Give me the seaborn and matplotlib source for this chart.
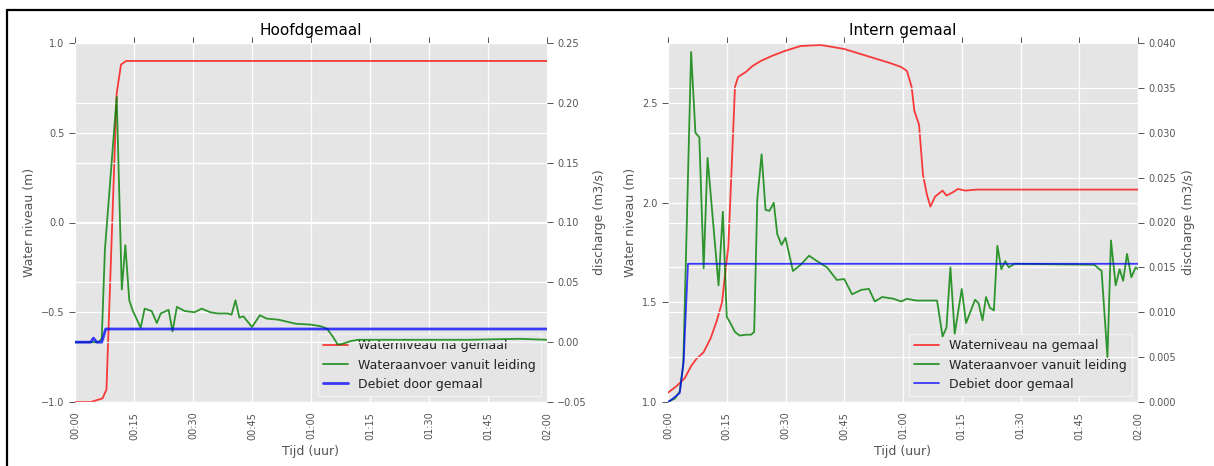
import numpy as np
import pandas as pd
import matplotlib
matplotlib.use("Agg")
import matplotlib.pyplot as plt
import matplotlib.dates as mdates
from matplotlib.ticker import MultipleLocator
from matplotlib.lines import Line2D
import seaborn as sns

# ---------------- data (time in minutes from 00:00) ----------------
titles = ["Hoofdgemaal", "Intern gemaal"]
series_labels = ["Waterniveau na gemaal", "Wateraanvoer vanuit leiding", "Debiet door gemaal"]

# Hoofdgemaal
h_level_t = [0, 4, 7, 8, 10.6, 11.7, 13, 120]
h_level_v = [-1.0, -1.0, -0.98, -0.93, 0.72, 0.88, 0.90, 0.90]

h_supply_t = [0, 6.0, 6.8, 7.6, 10.6, 11.9, 12.8, 13.8, 14.6, 16.7, 17.7, 19.5, 20.8,
              21.8, 23.8, 24.8, 25.9, 27.9, 30.4, 32.2, 34.4, 36.3, 38.8, 39.8, 40.8,
              41.8, 42.8, 45.0, 47.0, 48.7, 51.7, 54.2, 56.1, 60.1, 62.6, 64.1, 65.5,
              66.8, 68.0, 70.0, 72.0, 80, 100, 113, 120]
h_supply_q = [0, 0, 0.003, 0.077, 0.205, 0.044, 0.081, 0.035, 0.027, 0.012, 0.028, 0.026,
              0.016, 0.024, 0.027, 0.009, 0.0295, 0.026, 0.025, 0.028, 0.025, 0.024, 0.024,
              0.023, 0.035, 0.0205, 0.0216, 0.0126, 0.0225, 0.0197, 0.0188, 0.0169, 0.0154,
              0.0146, 0.0132, 0.0112, 0.0048, -0.002, -0.0014, 0.0008, 0.002, 0.002, 0.002,
              0.0028, 0.002]

h_pump_t = [0, 4.0, 4.7, 5.5, 6.8, 7.8, 120]
h_pump_q = [0, 0, 0.0034, 0.0, 0.0, 0.011, 0.011]

# Intern gemaal
i_level_t = [0, 2.2, 4.3, 5.9, 7.2, 9.1, 10.9, 12.5, 13.8, 14.3, 15.4, 16.2, 17.1, 17.9,
             19.9, 21.6, 23.7, 26.5, 29.8, 33.9, 39.0, 45, 50.8, 56.6, 59.5, 61, 62.2,
             62.9, 64.1, 65.1, 66.1, 67, 68.2, 70.1, 71.1, 72.6, 74, 75.9, 78.8, 120]
i_level_v = [1.047, 1.08, 1.12, 1.18, 1.215, 1.25, 1.32, 1.41, 1.5, 1.59, 1.78, 2.15, 2.58,
             2.63, 2.655, 2.685, 2.71, 2.735, 2.76, 2.785, 2.79, 2.77, 2.735, 2.70, 2.68,
             2.66, 2.58, 2.46, 2.39, 2.14, 2.04, 1.98, 2.03, 2.06, 2.035, 2.05, 2.068, 2.06,
             2.065, 2.065]

i_supply_t = [0, 1.8, 3.0, 3.9, 5.9, 7.0, 8.0, 9.1, 10.1, 12.9, 14.0, 15.0, 15.8, 17.1,
              18.3, 19.9, 21.2, 22.0, 22.8, 23.9, 24.9, 25.9, 27.0, 27.9, 29.0, 30.0, 31.9,
              33.9, 36.0, 37.7, 40.6, 43.1, 45, 47, 49.4, 51.3, 52.8, 54.7, 57.6, 59.5, 61,
              63.4, 68.7, 70.1, 71.1, 72.1, 73.2, 75, 76.1, 78.4, 79.3, 80.3, 81.2, 82.2,
              83.2, 84.1, 85.1, 86.1, 87, 88.5, 108.8, 110.7, 112.2, 113.1, 114.3, 115.3,
              116.2, 117.2, 118.3, 119.4, 120]
i_supply_q = [0, 0.0004, 0.0012, 0.0042, 0.039, 0.030, 0.0295, 0.0149, 0.0272, 0.013,
              0.0212, 0.0095, 0.0089, 0.0078, 0.0074, 0.0075, 0.0075, 0.0078, 0.0226, 0.0276,
              0.0214, 0.0213, 0.0222, 0.0187, 0.0175, 0.0183, 0.0146, 0.0153, 0.0163, 0.0158,
              0.0150, 0.0136, 0.0137, 0.012, 0.0125, 0.0126, 0.0112, 0.0117, 0.0115, 0.0112,
              0.0115, 0.0113, 0.0113, 0.0073, 0.0083, 0.015, 0.0076, 0.0126, 0.0088, 0.0114,
              0.011, 0.0091, 0.0117, 0.0105, 0.0102, 0.0174, 0.0148, 0.0157, 0.015, 0.0154,
              0.0153, 0.0146, 0.005, 0.018, 0.013, 0.0148, 0.0135, 0.0165, 0.0139, 0.015,
              0.0148]

i_pump_t = [0, 1.0, 3.0, 4.0, 5.1, 120]
i_pump_q = [0, 0.0003, 0.001, 0.0046, 0.0154, 0.0154]

level_ylims = [(-1.0, 1.0), (1.0, 2.8)]
flow_ylims = [(-0.05, 0.25), (0.0, 0.040)]
level_steps = [0.5, 0.5]
flow_steps = [0.05, 0.005]

# ---------------- styling ----------------
sns.set_theme()
plt.style.use("ggplot")
plt.rcParams["font.family"] = ["DejaVu Sans"]

base = pd.Timestamp("2000-01-01 00:00")


def to_time(mins):
    return base + pd.to_timedelta(np.asarray(mins, dtype=float), unit="min")


fig = plt.figure(figsize=(12.14, 4.66), dpi=100)
fig.patch.set_facecolor("white")
positions = [[75 / 1214, 64 / 466, 472 / 1214, 359 / 466],
             [668 / 1214, 64 / 466, 470 / 1214, 359 / 466]]

panels = [
    (h_level_t, h_level_v, h_supply_t, h_supply_q, h_pump_t, h_pump_q, 2.0),
    (i_level_t, i_level_v, i_supply_t, i_supply_q, i_pump_t, i_pump_q, 1.3),
]

gray = "#555555"
for k, (lt, lv, st, sq, pt, pq, blw) in enumerate(panels):
    ax = fig.add_axes(positions[k])
    ax.set_facecolor("#E5E5E5")
    ax2 = ax.twinx()

    sns.lineplot(x=to_time(lt), y=lv, ax=ax, color="red", alpha=0.75, linewidth=1.3)
    sns.lineplot(x=to_time(st), y=sq, ax=ax2, color="green", alpha=0.8, linewidth=1.3)
    sns.lineplot(x=to_time(pt), y=pq, ax=ax2, color="blue", alpha=0.75, linewidth=blw)

    ax.set_xlim(to_time([0])[0], to_time([120])[0])
    ax.set_ylim(*level_ylims[k])
    ax2.set_ylim(*flow_ylims[k])
    ax.yaxis.set_major_locator(MultipleLocator(level_steps[k]))
    ax2.yaxis.set_major_locator(MultipleLocator(flow_steps[k]))
    ax.xaxis.set_major_locator(mdates.MinuteLocator(byminute=[0, 15, 30, 45]))
    ax.xaxis.set_major_formatter(mdates.DateFormatter("%H:%M"))

    for a in (ax, ax2):
        a.grid(True, color="white", linewidth=0.9)
        a.set_axisbelow(True)
        for s in a.spines.values():
            s.set_visible(False)
    ax.tick_params(axis="x", top=True, direction="out", length=4, width=0.7,
                   colors=gray, labelsize=7, labelrotation=90, pad=3)
    ax.tick_params(axis="y", direction="out", length=4, width=0.7, colors=gray, labelsize=7)
    ax2.tick_params(axis="y", direction="out", length=4, width=0.7, colors=gray, labelsize=7)

    ax.set_title(titles[k], fontsize=11, color="black", pad=6)
    ax.set_xlabel("Tijd (uur)", fontsize=9, color=gray)
    ax.set_ylabel("Water niveau (m)", fontsize=9, color=gray)
    ax2.set_ylabel("discharge (m3/s)", fontsize=9, color=gray)

    handles = [ax.lines[0], ax2.lines[0], ax2.lines[1]]
    leg = ax.legend(handles, series_labels, loc="lower right", fontsize=9,
                    facecolor="#E5E5E5", edgecolor="#F2F2F2", framealpha=1.0,
                    fancybox=False, handlelength=2.0)
    leg.get_frame().set_linewidth(1.0)
    for txt in leg.get_texts():
        txt.set_color("#222222")

# black frame on the top and left edges
fig.add_artist(Line2D([7 / 1214, 1.0], [1 - 10 / 466, 1 - 10 / 466],
                      transform=fig.transFigure, color="black", linewidth=1.6))
fig.add_artist(Line2D([7 / 1214, 7 / 1214], [0.0, 1 - 10 / 466],
                      transform=fig.transFigure, color="black", linewidth=1.6))

fig.savefig("out.png", dpi=100, facecolor="white")
